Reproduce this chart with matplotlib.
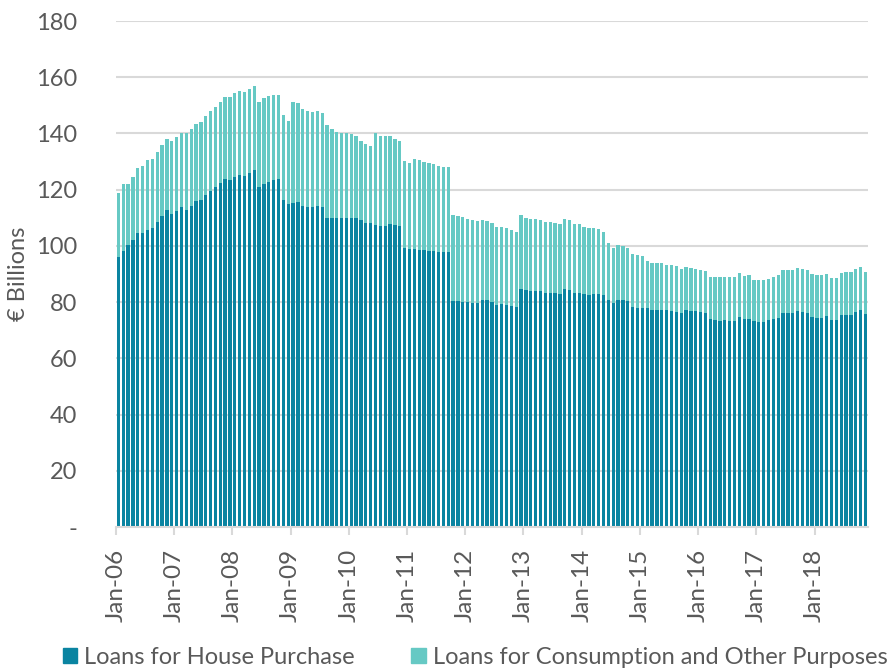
import matplotlib.pyplot as plt
from matplotlib.patches import Patch

# Monthly outstanding loans, Jan-06 .. Nov-18 (EUR billions)
house = [
    96.1, 98.3, 100.4, 102.2, 104.6, 104.6, 105.7, 106.4, 108.6, 110.6, 112.8, 111.2,
    112.6, 113.9, 112.8, 114.3, 116.0, 116.4, 118.2, 119.7, 120.9, 122.3, 123.8, 123.5,
    124.6, 125.3, 124.9, 125.9, 127.1, 120.9, 122.0, 122.7, 123.5, 123.8, 116.4, 114.9,
    115.2, 115.5, 114.1, 113.9, 113.9, 114.2, 113.9, 109.9, 109.9, 109.9, 109.9, 109.9,
    109.9, 109.8, 109.2, 108.2, 108.1, 107.5, 107.2, 107.2, 107.7, 107.3, 107.0, 99.3,
    98.9, 98.9, 98.6, 98.4, 98.3, 98.1, 97.8, 97.7, 97.8, 80.5, 80.5, 80.1,
    80.1, 79.7, 79.7, 80.7, 80.7, 80.0, 78.9, 79.3, 79.0, 78.6, 78.3, 84.7,
    84.3, 83.9, 83.9, 83.9, 83.2, 83.2, 83.2, 82.8, 84.7, 84.3, 83.2, 83.2,
    82.8, 82.5, 82.8, 82.8, 82.5, 80.6, 79.8, 80.7, 80.7, 80.4, 78.2, 77.9,
    77.9, 77.8, 77.2, 77.2, 77.2, 77.2, 76.8, 76.4, 76.2, 77.2, 76.8, 76.8,
    76.4, 76.0, 73.9, 73.6, 73.3, 73.6, 73.3, 73.3, 74.7, 73.9, 73.9, 73.2,
    72.9, 72.9, 73.6, 73.9, 74.3, 76.1, 76.1, 76.1, 76.8, 76.4, 76.1, 74.6,
    74.3, 74.3, 74.9, 73.6, 73.6, 75.3, 75.3, 75.6, 76.4, 77.2, 75.8,
]
total = [
    119.0, 122.1, 122.1, 124.5, 127.6, 128.5, 130.4, 130.9, 133.4, 136.0, 138.0, 137.3,
    138.8, 140.2, 140.2, 141.7, 143.4, 144.2, 146.3, 148.0, 149.5, 151.1, 153.0, 153.0,
    154.3, 155.1, 154.7, 155.7, 156.9, 151.2, 152.6, 153.3, 153.7, 153.6, 146.4, 144.5,
    151.2, 150.8, 148.7, 147.9, 147.6, 148.0, 147.3, 142.9, 141.5, 140.7, 140.2, 140.0,
    139.8, 139.1, 137.3, 136.2, 135.6, 140.0, 139.1, 139.0, 139.0, 138.0, 137.5, 130.1,
    129.4, 130.9, 130.4, 129.8, 129.5, 129.2, 128.6, 128.1, 128.1, 110.9, 110.8, 110.2,
    109.5, 109.1, 108.8, 109.1, 109.0, 108.0, 106.8, 106.6, 106.4, 105.7, 105.0, 110.9,
    110.0, 109.4, 109.6, 109.1, 108.5, 108.5, 108.0, 107.7, 109.4, 109.1, 107.8, 107.7,
    106.8, 106.3, 106.3, 106.0, 105.0, 101.1, 99.2, 100.2, 100.0, 99.3, 97.1, 96.7,
    96.5, 94.7, 94.0, 93.8, 93.8, 93.3, 93.1, 92.8, 91.7, 92.5, 92.2, 91.7,
    91.4, 91.0, 89.0, 88.9, 88.9, 88.9, 88.9, 88.9, 90.2, 89.4, 89.5, 87.9,
    87.8, 87.8, 88.4, 88.9, 89.5, 91.3, 91.4, 91.4, 92.2, 91.7, 91.3, 89.9,
    89.6, 89.6, 89.9, 88.7, 88.6, 90.2, 90.7, 90.8, 91.7, 92.5, 90.9,
]
other = [t - h for t, h in zip(total, house)]
years = ['06', '07', '08', '09', '10', '11', '12', '13', '14', '15', '16', '17', '18']
tick_labels = ['Jan-' + y for y in years]

dark = '#0A84A1'
light = '#66C9C4'
grey = '#595959'

plt.rcParams['font.family'] = ['Lato', 'DejaVu Sans']

fig = plt.figure(figsize=(8.88, 6.70), dpi=100)
ax = fig.add_axes([0.1306, 0.2134, 0.8468, 0.7552])

x = list(range(len(house)))
ax.bar(x, house, width=0.68, color=dark, zorder=2)
ax.bar(x, other, bottom=house, width=0.68, color=light, zorder=2)

ax.set_xlim(-0.5, len(house) - 0.5)
ax.set_ylim(0, 180)
ax.set_yticks(range(0, 181, 20))
ax.set_yticklabels(['-'] + [str(v) for v in range(20, 181, 20)])
ax.set_xticks([-0.5 + 12 * i for i in range(len(tick_labels))])
ax.set_xticklabels(tick_labels, rotation=90)

ax.grid(axis='y', color='#D9D9D9', linewidth=1.5, zorder=0)
for s in ['top', 'right', 'left']:
    ax.spines[s].set_visible(False)
ax.spines['bottom'].set_color('#D9D9D9')
ax.spines['bottom'].set_linewidth(1.5)
ax.tick_params(axis='y', length=0, pad=28, labelsize=17, labelcolor=grey)
ax.tick_params(axis='x', length=6, width=1.5, color='#D9D9D9', pad=10,
               labelsize=17.5, labelcolor=grey)
ax.set_ylabel('€ Billions', fontsize=17, color=grey, labelpad=5)

handles = [Patch(color=dark, label='Loans for House Purchase'),
           Patch(color=light, label='Loans for Consumption and Other Purposes')]
fig.legend(handles=handles, loc='lower center', bbox_to_anchor=(0.535, -0.028), ncol=2,
           frameon=False, fontsize=17, labelcolor=grey, handlelength=0.6,
           handleheight=0.6, handletextpad=0.3, columnspacing=2.4)

fig.savefig('out.png', dpi=100)
